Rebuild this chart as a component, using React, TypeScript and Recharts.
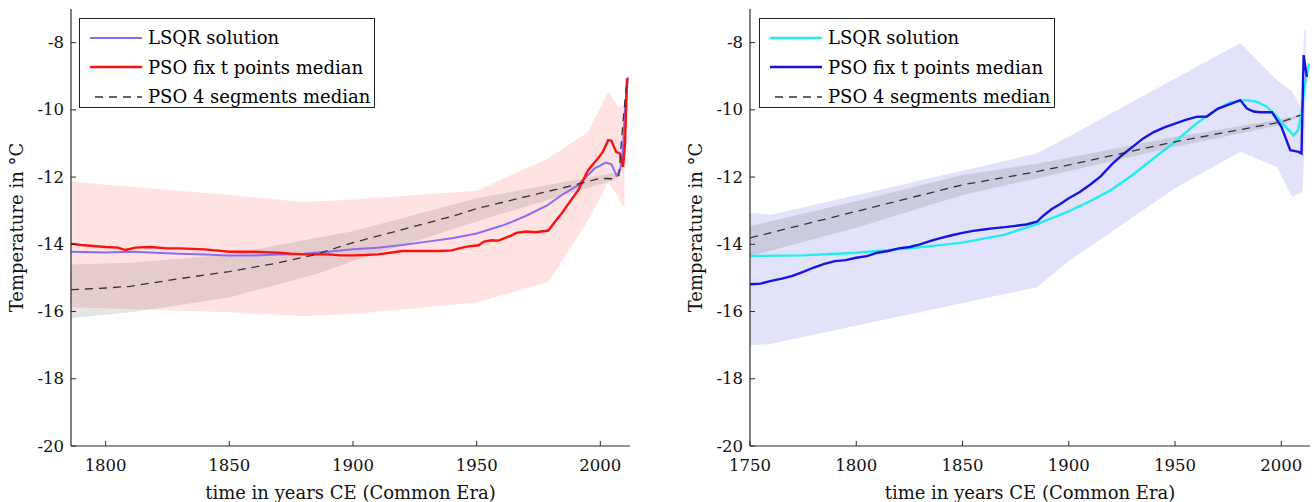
import React from 'react';
import { ComposedChart, Line, Area, XAxis, YAxis, Legend, Label } from 'recharts';

// ---------------- Left panel data ----------------
const L_LSQR_YEARS = [1786, 1800, 1810, 1820, 1830, 1840, 1850, 1860, 1870, 1880, 1890, 1900, 1910, 1920, 1930, 1940, 1950, 1960, 1964, 1970, 1978.5, 1984.3, 1991, 1997.6, 2002.2, 2004.5, 2006.5, 2008, 2009, 2010, 2011.2];
const L_LSQR_TEMP = [-14.22, -14.24, -14.22, -14.25, -14.28, -14.3, -14.33, -14.33, -14.3, -14.28, -14.22, -14.15, -14.1, -14.02, -13.92, -13.82, -13.68, -13.45, -13.34, -13.15, -12.84, -12.54, -12.24, -11.75, -11.57, -11.62, -11.95, -11.8, -11.3, -10.0, -9.03];

const L_PSO_YEARS = [1786, 1790, 1795, 1800, 1805, 1808, 1812, 1818, 1825, 1830, 1840, 1850, 1860, 1870, 1875, 1880, 1885, 1890, 1895, 1900, 1905, 1910, 1915, 1920, 1925, 1930, 1935, 1940, 1943, 1946, 1950.8, 1953, 1956, 1958.8, 1964, 1966, 1970, 1973.7, 1979, 1982, 1984.3, 1988, 1991, 1995, 1999, 2001, 2003.2, 2004.5, 2006.4, 2008, 2009.2, 2010, 2010.8];
const L_PSO_TEMP = [-13.98, -14.02, -14.05, -14.08, -14.1, -14.17, -14.1, -14.08, -14.12, -14.12, -14.15, -14.22, -14.22, -14.25, -14.28, -14.3, -14.3, -14.3, -14.33, -14.33, -14.32, -14.3, -14.25, -14.2, -14.2, -14.2, -14.2, -14.18, -14.12, -14.07, -14.03, -13.92, -13.88, -13.89, -13.74, -13.66, -13.62, -13.64, -13.59, -13.3, -13.09, -12.7, -12.4, -11.8, -11.45, -11.25, -10.9, -10.92, -11.25, -11.3, -11.7, -11.0, -9.06];

const L_SEG_YEARS = [1786, 1800, 1810, 1830, 1850, 1870, 1885, 1900, 1920, 1940, 1950, 1970, 1990, 2000, 2005, 2007.5, 2009, 2010.5];
const L_SEG_TEMP = [-15.35, -15.3, -15.25, -15.02, -14.81, -14.55, -14.3, -13.95, -13.56, -13.17, -12.94, -12.58, -12.23, -12.04, -12.05, -11.95, -10.5, -9.3];

const L_GREY_YEARS = [1786, 1810, 1850, 1885, 1900, 1950, 1990, 2005, 2008];
const L_GREY_HI = [-14.6, -14.55, -14.3, -13.81, -13.61, -12.63, -12.08, -11.88, -11.9];
const L_GREY_LO = [-16.2, -16.02, -15.58, -14.89, -14.5, -13.32, -12.43, -12.1, -11.95];

const L_BAND_YEARS = [1786, 1800, 1850, 1880, 1900, 1950, 1979, 1995, 2003.2, 2007.2, 2009.2, 2009.8];
const L_BAND_HI = [-12.13, -12.23, -12.53, -12.74, -12.67, -12.41, -11.44, -10.66, -9.46, -9.91, -9.9, -9.9];
const L_BAND_LO = [-15.87, -15.9, -16.02, -16.13, -16.07, -15.73, -15.12, -13.3, -12.15, -12.6, -12.89, -12.89];

// ---------------- Right panel data ----------------
const R_PSO_YEARS = [1750, 1755, 1760, 1765, 1770, 1775, 1780, 1785, 1790, 1795, 1800, 1805, 1810, 1815, 1820, 1825, 1830, 1835, 1840, 1845, 1850, 1855, 1860, 1865, 1870, 1875, 1880, 1885, 1888, 1892, 1896, 1900, 1905, 1910, 1915, 1920, 1925, 1930, 1935, 1940, 1945, 1950, 1955, 1960, 1965, 1970, 1975, 1980.7, 1983.8, 1987, 1990, 1995.6, 2000, 2004.2, 2006, 2008.1, 2009.5, 2010.5, 2012];
const R_PSO_TEMP = [-15.19, -15.17, -15.09, -15.02, -14.94, -14.82, -14.69, -14.58, -14.5, -14.47, -14.4, -14.35, -14.25, -14.2, -14.12, -14.08, -14.0, -13.9, -13.81, -13.73, -13.66, -13.6, -13.56, -13.52, -13.49, -13.45, -13.41, -13.33, -13.15, -12.95, -12.8, -12.63, -12.45, -12.23, -11.98, -11.64, -11.35, -11.1, -10.85, -10.66, -10.52, -10.41, -10.3, -10.21, -10.2, -9.97, -9.85, -9.71, -9.96, -10.05, -10.07, -10.07, -10.5, -11.2, -11.22, -11.25, -11.3, -8.37, -9.02];

const R_LSQR_YEARS = [1750, 1775, 1800, 1825, 1850, 1870, 1885, 1900, 1910, 1920, 1930, 1940, 1950, 1960, 1970, 1976, 1983, 1988, 1993, 1998, 2002, 2005.8, 2008, 2009.7, 2011, 2013];
const R_LSQR_TEMP = [-14.35, -14.33, -14.25, -14.12, -13.95, -13.71, -13.4, -13.02, -12.72, -12.38, -11.94, -11.44, -10.95, -10.41, -9.97, -9.78, -9.71, -9.75, -9.9, -10.2, -10.5, -10.76, -10.6, -10.0, -9.3, -8.62];

const R_SEG_YEARS = [1750, 1800, 1850, 1885, 1900, 1950, 2000, 2009];
const R_SEG_TEMP = [-13.81, -13.02, -12.23, -11.84, -11.64, -10.95, -10.36, -10.16];

const R_GREY_YEARS = [1750, 1800, 1850, 1885, 1950, 2000, 2009];
const R_GREY_HI = [-13.46, -12.72, -11.94, -11.6, -10.8, -10.28, -10.12];
const R_GREY_LO = [-14.35, -13.51, -12.53, -12.04, -11.1, -10.45, -10.2];

const R_BAND_YEARS = [1750, 1760, 1885, 1900, 1950, 1980.7, 1998, 2005, 2007.4, 2008.9, 2010, 2010.9, 2011.5];
const R_BAND_HI = [-13.07, -13.12, -11.3, -10.79, -9.07, -8.02, -9.12, -9.45, -9.71, -9.9, -8.5, -7.63, -7.63];
const R_BAND_LO = [-17.0, -16.96, -15.28, -14.5, -12.33, -11.25, -11.7, -12.59, -12.5, -12.49, -12.4, -11.0, -9.5];

// ---------------- Axes / labels ----------------
const Y_DOMAIN = [-20, -7];
const Y_TICKS = [-20, -18, -16, -14, -12, -10, -8];
const L_X_DOMAIN = [1786, 2012];
const L_X_TICKS = [1800, 1850, 1900, 1950, 2000];
const R_X_DOMAIN = [1750, 2013.5];
const R_X_TICKS = [1750, 1800, 1850, 1900, 1950, 2000];
const X_TITLE = 'time in years CE (Common Era)';
const Y_TITLE = 'Temperature in °C';
const SERIES_NAMES = ['LSQR solution', 'PSO fix t points median', 'PSO 4 segments median'];

// ---------------- Styles ----------------
const FONT = '"DejaVu Serif", serif';
const AXIS = '#2b2b2b';
const DASH = '8 6';

const zip = (xs: number[], ys: number[]) => xs.map((x, i) => ({ x, y: ys[i] }));
const zipBand = (xs: number[], lo: number[], hi: number[]) => xs.map((x, i) => ({ x, r: [lo[i], hi[i]] }));

const XTick = (props: any) => {
  const { x, y, payload } = props;
  return (
    <g>
      <line x1={x} y1={y} x2={x} y2={y - 5} stroke={AXIS} strokeWidth={1} />
      <text x={x} y={y + 19} textAnchor="middle" dominantBaseline="central" fontFamily={FONT} fontSize={16.5} fill="#111">
        {payload.value}
      </text>
    </g>
  );
};

const YTick = (props: any) => {
  const { x, y, payload } = props;
  return (
    <g>
      <line x1={x} y1={y} x2={x + 5} y2={y} stroke={AXIS} strokeWidth={1} />
      <text x={x - 7} y={y} textAnchor="end" dominantBaseline="central" fontFamily={FONT} fontSize={16.5} fill="#111">
        {payload.value}
      </text>
    </g>
  );
};

const XTitle = (props: any) => {
  const vb = props.viewBox;
  return (
    <text x={vb.x + vb.width / 2} y={vb.y + 46} textAnchor="middle" dominantBaseline="central" fontFamily={FONT} fontSize={18} fill="#111">
      {X_TITLE}
    </text>
  );
};

const YTitle = (props: any) => {
  const vb = props.viewBox;
  const cx = vb.x - 4.5;
  const cy = vb.y + vb.height / 2;
  return (
    <text x={cx} y={cy} transform={`rotate(-90, ${cx}, ${cy})`} textAnchor="middle" dominantBaseline="central" fontFamily={FONT} fontSize={18} fill="#111">
      {Y_TITLE}
    </text>
  );
};

type Styles = { lsqr: string; pso: string; band: string; lsqrW: number; psoW: number };

const LegendBox = ({ st }: { st: Styles }) => {
  const samples = [
    { color: st.lsqr, w: st.lsqrW, dash: undefined as string | undefined },
    { color: st.pso, w: st.psoW, dash: undefined as string | undefined },
    { color: '#333', w: 1.3, dash: DASH },
  ];
  return (
    <div style={{ boxSizing: 'border-box', width: 296, height: 90, border: '1px solid #222', background: '#fff', paddingTop: 4, fontFamily: FONT, fontSize: 18, color: '#000' }}>
      {SERIES_NAMES.map((n, i) => (
        <div key={n} style={{ display: 'flex', alignItems: 'center', height: 29.5 }}>
          <svg width={62} height={10} style={{ flex: 'none', display: 'block' }}>
            <line x1={i === 2 ? 15 : 10} y1={5} x2={62} y2={5} stroke={samples[i].color} strokeWidth={samples[i].w} strokeDasharray={samples[i].dash} />
          </svg>
          <span style={{ marginLeft: 6, whiteSpace: 'nowrap', lineHeight: '29.5px' }}>{n}</span>
        </div>
      ))}
    </div>
  );
};

type PanelProps = {
  width: number;
  margin: { top: number; right: number; bottom: number; left: number };
  xDomain: number[];
  xTicks: number[];
  band: { x: number; r: number[] }[];
  grey: { x: number; r: number[] }[];
  lsqr: { x: number; y: number }[];
  pso: { x: number; y: number }[];
  seg: { x: number; y: number }[];
  st: Styles;
  legendLeft: number;
};

const Panel = (p: PanelProps) => (
  <ComposedChart width={p.width} height={502} margin={p.margin}>
    <XAxis
      type="number"
      dataKey="x"
      domain={p.xDomain}
      ticks={p.xTicks}
      allowDataOverflow
      height={56}
      tickSize={0}
      tickMargin={0}
      tickLine={false}
      axisLine={{ stroke: AXIS, strokeWidth: 1.2 }}
      tick={<XTick />}
      interval={0}
    >
      <Label content={<XTitle />} />
    </XAxis>
    <YAxis
      type="number"
      domain={Y_DOMAIN}
      ticks={Y_TICKS}
      allowDataOverflow
      width={50}
      tickSize={0}
      tickMargin={0}
      tickLine={false}
      axisLine={{ stroke: AXIS, strokeWidth: 1.2 }}
      tick={<YTick />}
      interval={0}
    >
      <Label content={<YTitle />} />
    </YAxis>
    <Legend
      layout="vertical"
      align="center"
      verticalAlign="middle"
      content={() => <LegendBox st={p.st} />}
      wrapperStyle={{ left: p.legendLeft, top: 18, width: 296, height: 90 }}
    />
    <Area data={p.band} dataKey="r" type="linear" stroke="none" fill={p.st.band} fillOpacity={1} isAnimationActive={false} legendType="none" />
    <Area data={p.grey} dataKey="r" type="linear" stroke="none" fill="#000" fillOpacity={0.1} isAnimationActive={false} legendType="none" />
    <Line data={p.lsqr} dataKey="y" type="linear" stroke={p.st.lsqr} strokeWidth={p.st.lsqrW} dot={false} isAnimationActive={false} />
    <Line data={p.pso} dataKey="y" type="linear" stroke={p.st.pso} strokeWidth={p.st.psoW} dot={false} isAnimationActive={false} />
    <Line data={p.seg} dataKey="y" type="linear" stroke="#333" strokeWidth={1.3} strokeDasharray={DASH} dot={false} isAnimationActive={false} />
  </ComposedChart>
);

const LEFT_STYLE: Styles = { lsqr: '#8a6cf7', pso: '#ff1010', band: '#ffe2e2', lsqrW: 2, psoW: 2.4 };
const RIGHT_STYLE: Styles = { lsqr: '#22eef0', pso: '#1515e0', band: '#e2e2fa', lsqrW: 2.4, psoW: 2.4 };

export default function App() {
  return (
    <div style={{ position: 'absolute', left: 0, top: 0, width: 1314, height: 502, background: '#fff' }}>
      <div style={{ position: 'absolute', left: 0, top: 0 }}>
        <Panel
          width={655}
          margin={{ top: 9, right: 25, bottom: 0, left: 21 }}
          xDomain={L_X_DOMAIN}
          xTicks={L_X_TICKS}
          band={zipBand(L_BAND_YEARS, L_BAND_LO, L_BAND_HI)}
          grey={zipBand(L_GREY_YEARS, L_GREY_LO, L_GREY_HI)}
          lsqr={zip(L_LSQR_YEARS, L_LSQR_TEMP)}
          pso={zip(L_PSO_YEARS, L_PSO_TEMP)}
          seg={zip(L_SEG_YEARS, L_SEG_TEMP)}
          st={LEFT_STYLE}
          legendLeft={79}
        />
      </div>
      <div style={{ position: 'absolute', left: 660, top: 0 }}>
        <Panel
          width={654}
          margin={{ top: 9, right: 4, bottom: 0, left: 40 }}
          xDomain={R_X_DOMAIN}
          xTicks={R_X_TICKS}
          band={zipBand(R_BAND_YEARS, R_BAND_LO, R_BAND_HI)}
          grey={zipBand(R_GREY_YEARS, R_GREY_LO, R_GREY_HI)}
          lsqr={zip(R_LSQR_YEARS, R_LSQR_TEMP)}
          pso={zip(R_PSO_YEARS, R_PSO_TEMP)}
          seg={zip(R_SEG_YEARS, R_SEG_TEMP)}
          st={RIGHT_STYLE}
          legendLeft={99}
        />
      </div>
    </div>
  );
}
